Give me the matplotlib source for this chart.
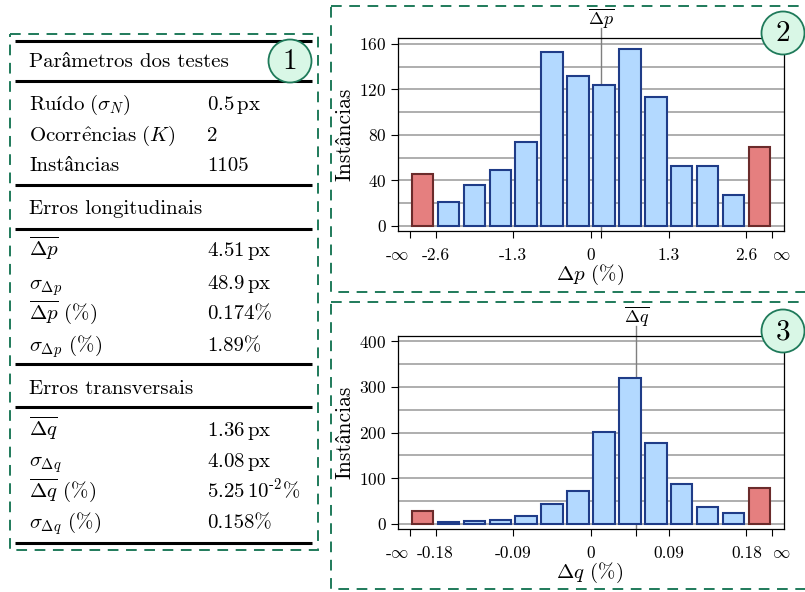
import matplotlib
matplotlib.use("Agg")
import matplotlib.pyplot as plt
from matplotlib.patches import Circle, Rectangle
from matplotlib.transforms import blended_transform_factory

plt.rcParams['font.family'] = ['cmr10', 'STIXGeneral']
plt.rcParams['mathtext.fontset'] = 'cm'
plt.rcParams['axes.unicode_minus'] = False
plt.rcParams['axes.formatter.use_mathtext'] = True

# Longitudinal errors, Δp (%): 12 regular bins + two open-ended outlier bins
p_edges = [-3.033, -2.6, -2.167, -1.733, -1.3, -0.867, -0.433, 0.0,
           0.433, 0.867, 1.3, 1.733, 2.167, 2.6, 3.033]
p_counts = [46, 21, 36, 49, 74, 153, 132, 124, 155, 113, 53, 53, 27, 69]
p_ticks = [-2.6, -1.3, 0, 1.3, 2.6]
p_tick_labels = ['-2.6', '-1.3', '0', '1.3', '2.6']
p_mean = 0.174
p_yticks = [0, 40, 80, 120, 160]
p_ygrid = [20, 60, 100, 140]

# Transverse errors, Δq (%)
q_edges = [-0.21, -0.18, -0.15, -0.12, -0.09, -0.06, -0.03, 0.0,
           0.03, 0.06, 0.09, 0.12, 0.15, 0.18, 0.21]
q_counts = [29, 4, 7, 9, 17, 44, 71, 202, 320, 177, 88, 36, 23, 78]
q_ticks = [-0.18, -0.09, 0, 0.09, 0.18]
q_tick_labels = ['-0.18', '-0.09', '0', '0.09', '0.18']
q_mean = 0.0525
q_yticks = [0, 100, 200, 300, 400]
q_ygrid = [50, 150, 250, 350]

# Summary table
table_groups = [
    ('Parâmetros dos testes', [
        ('$\\mathrm{Ruído}\\ (\\sigma_N)$', '$\\mathrm{0.5\\,px}$'),
        ('$\\mathrm{Ocorr\\hat{e}ncias}\\ (K)$', '2'),
        ('Instâncias', '1105'),
    ]),
    ('Erros longitudinais', [
        ('$\\overline{\\Delta p}$', '$\\mathrm{4.51\\,px}$'),
        ('$\\sigma_{\\Delta p}$', '$\\mathrm{48.9\\,px}$'),
        ('$\\overline{\\Delta p}$ (%)', '0.174%'),
        ('$\\sigma_{\\Delta p}$ (%)', '1.89%'),
    ]),
    ('Erros transversais', [
        ('$\\overline{\\Delta q}$', '$\\mathrm{1.36\\,px}$'),
        ('$\\sigma_{\\Delta q}$', '$\\mathrm{4.08\\,px}$'),
        ('$\\overline{\\Delta q}$ (%)', '$\\mathrm{5.25\\,10^{\\text{-}2}\\%}$'),
        ('$\\sigma_{\\Delta q}$ (%)', '0.158%'),
    ]),
]

GREEN = '#1f7a5a'
BLUE_FILL, BLUE_EDGE = '#b3d9ff', '#1f3c88'
RED_FILL, RED_EDGE = '#e57f7f', '#6b2b2b'


def draw_hist(ax, edges, counts, ticks, tick_labels, mean, mean_label,
              yticks, ygrid, xlabel):
    centers = [(a + b) / 2 for a, b in zip(edges[:-1], edges[1:])]
    widths = [(b - a) * 0.83 for a, b in zip(edges[:-1], edges[1:])]
    n = len(counts)
    fills = [RED_FILL if i in (0, n - 1) else BLUE_FILL for i in range(n)]
    edgecs = [RED_EDGE if i in (0, n - 1) else BLUE_EDGE for i in range(n)]
    ax.bar(centers, counts, width=widths, color=fills, edgecolor=edgecs,
           linewidth=1.5, zorder=3)

    span = edges[-1] - edges[0]
    pad = span * 0.2 / 6.066
    ax.set_xlim(edges[0] - pad, edges[-1] + pad)
    top = yticks[-1] * 1.03
    ax.set_ylim(-top * 0.027, top)

    ax.set_yticks(yticks)
    ax.set_yticks(ygrid, minor=True)
    ax.tick_params(axis='y', which='minor', length=0)
    ax.grid(axis='y', which='both', color='#a8a8a8', linewidth=1.3)
    ax.set_axisbelow(True)

    # outlier ticks at both ends, regular ticks, and the mean
    xt = [edges[0]] + ticks + [edges[-1], mean]
    xl = ['-$\\infty$'] + tick_labels + ['$\\infty$', '']
    ax.set_xticks(xt)
    ax.set_xticklabels(xl)
    labels = ax.get_xticklabels()
    labels[0].set_ha('right')
    labels[len(ticks) + 1].set_ha('left')

    ax.tick_params(axis='both', direction='out', length=5, width=0.8,
                   labelsize=12.5)
    ax.tick_params(axis='x', pad=7)
    ax.tick_params(axis='y', pad=3)
    for s in ax.spines.values():
        s.set_linewidth(0.9)

    trans = blended_transform_factory(ax.transData, ax.transAxes)
    ax.plot([mean, mean], [0, 1.052], transform=trans, color='#7f7f7f',
            linewidth=1.0, zorder=1, clip_on=False)
    ax.text(mean, 1.07, mean_label, transform=trans, ha='center',
            va='baseline', fontsize=13)

    ax.set_xlabel(xlabel, fontsize=15)
    ax.set_ylabel('Instâncias', fontsize=15.5)
    ax.xaxis.set_label_coords(0.497, -0.228)
    ax.xaxis.label.set_va('center')
    ax.yaxis.set_label_coords(-0.136, 0.5)
    ax.yaxis.label.set_va('center')


fig = plt.figure(figsize=(8.05, 5.92), dpi=100)

ax_p = fig.add_axes([0.494, 0.6098, 0.4803, 0.3255])
draw_hist(ax_p, p_edges, p_counts, p_ticks, p_tick_labels, p_mean,
          '$\\overline{\\Delta p}$', p_yticks, p_ygrid, '$\\Delta p$ (%)')

ax_q = fig.add_axes([0.494, 0.1064, 0.4803, 0.3265])
draw_hist(ax_q, q_edges, q_counts, q_ticks, q_tick_labels, q_mean,
          '$\\overline{\\Delta q}$', q_yticks, q_ygrid, '$\\Delta q$ (%)')

# overlay in pixel coordinates for the table, frames and panel badges
ov = fig.add_axes([0, 0, 1, 1])
ov.set_xlim(0, 805)
ov.set_ylim(592, 0)
ov.axis('off')
ov.patch.set_alpha(0)

frame_kw = dict(fill=False, edgecolor=GREEN, linewidth=1.4,
                linestyle=(0, (5.5, 3.9)))
ov.add_patch(Rectangle((10, 34), 308, 516, **frame_kw))
ov.add_patch(Rectangle((331, 6), 500, 286, **frame_kw))
ov.add_patch(Rectangle((331, 302), 500, 287, **frame_kw))

rule_y = [41, 81, 185, 229, 364, 407, 543]
for y in rule_y:
    ov.plot([15, 312], [y, y], color='black', linewidth=2.2,
            solid_capstyle='butt')

header_base = [66.7, 214.3, 394]
row_base = [[110, 140.7, 170.7],
            [256, 289, 319.3, 351],
            [436, 466.7, 497.3, 528.3]]
for (title, rows), hy, ys in zip(table_groups, header_base, row_base):
    ov.text(29, hy, title, fontsize=15, va='baseline')
    for (name, val), y in zip(rows, ys):
        ov.text(29, y, name, fontsize=15, va='baseline')
        ov.text(207, y, val, fontsize=15, va='baseline')

for cx, cy, num in [(290, 61, '1'), (783, 33, '2'), (783, 331, '3')]:
    ov.add_patch(Circle((cx, cy), 21.5, facecolor='#d9f7e6',
                        edgecolor=GREEN, linewidth=1.3, zorder=5))
    ov.text(cx, cy + 1, num, fontsize=21, ha='center', va='center',
            zorder=6)

fig.savefig('out.png', dpi=100)
